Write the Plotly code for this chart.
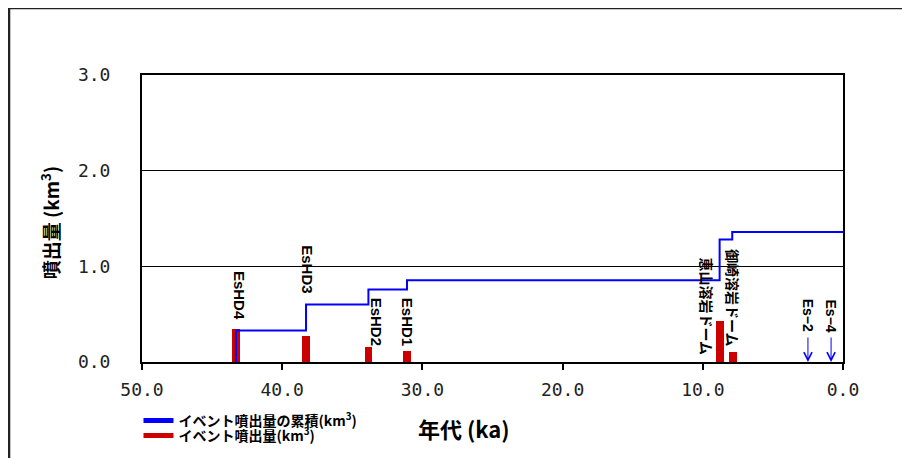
import plotly.graph_objects as go

# event ages (ka) and erupted volume (km3)
event_names = ["EsHD4", "EsHD3", "EsHD2", "EsHD1", "恵山溶岩ドーム", "御崎溶岩ドーム"]
event_age = [43.3, 38.3, 33.85, 31.1, 8.75, 7.85]
event_volume = [0.35, 0.27, 0.155, 0.115, 0.425, 0.10]

# cumulative volume step line
cum_age = [43.3, 43.3, 38.3, 33.85, 31.1, 8.8, 7.9, 0.0]
cum_volume = [0.0, 0.33, 0.60, 0.757, 0.854, 1.28, 1.36, 1.36]

# label anchor points (ka, km3)
label_age = [43.0, 38.2, 33.3, 31.1, 9.7, 7.85]
label_y = [0.70, 0.965, 0.42, 0.42, 0.58, 0.67]

# small eruptions marked by arrows
small_names = ["Es\u22122", "Es\u22124"]
small_age = [2.5, 0.85]

x_ticks = [50, 40, 30, 20, 10, 0]
y_ticks = [0, 1, 2, 3]

BLUE = "#0000FF"
RED = "#CC0000"
JP = "Noto Sans CJK JP"
MONO = "DejaVu Sans Mono"

fig = go.Figure()

fig.add_trace(go.Bar(
    x=event_age, y=event_volume,
    width=0.55,
    marker_color=RED,
    marker_line=dict(width=0),
    showlegend=False,
))

fig.add_trace(go.Scatter(
    x=cum_age, y=cum_volume,
    mode="lines",
    line=dict(color=BLUE, width=2, shape="hv"),
    showlegend=False,
))

# legend entries (drawn as thick line samples like the original)
fig.add_trace(go.Scatter(
    x=[None], y=[None], mode="lines",
    name="<b>イベント噴出量の累積(km<sup>3</sup>)</b>",
    line=dict(color=BLUE, width=5),
    legend="legend",
))
fig.add_trace(go.Scatter(
    x=[None], y=[None], mode="lines",
    name="<b>イベント噴出量(km<sup>3</sup>)</b>",
    line=dict(color=RED, width=5),
    legend="legend2",
))

for name, ax_, ay_ in zip(event_names, label_age, label_y):
    is_jp = not name.startswith("Es")
    fig.add_annotation(
        x=ax_, y=ay_, text="<b>" + name + "</b>",
        showarrow=False, textangle=90,
        xanchor="center", yanchor="middle",
        font=dict(family=JP if is_jp else "Liberation Sans", size=14 if is_jp else 15, color="black"),
    )

for name, age in zip(small_names, small_age):
    fig.add_annotation(
        x=age, y=0, text="", showarrow=True,
        ax=0, ay=-26, axref="pixel", ayref="pixel",
        arrowhead=5, arrowsize=1.6, arrowwidth=1, arrowcolor=BLUE,
    )
    fig.add_annotation(
        x=age, y=0.485, text="<b>" + name + "</b>",
        showarrow=False, textangle=90,
        xanchor="center", yanchor="middle",
        font=dict(family="Liberation Sans", size=14, color="black"),
    )

# axis titles
fig.add_annotation(
    xref="paper", yref="paper", x=0.459, y=-0.23,
    xanchor="center", yanchor="middle",
    text="<b>年代 (ka)</b>", showarrow=False,
    font=dict(family=JP, size=22, color="black"),
)
fig.add_annotation(
    xref="paper", yref="paper", x=-0.131, y=0.484,
    xanchor="center", yanchor="middle",
    text="<b>噴出量 (km<sup>3</sup>)</b>", showarrow=False, textangle=-90,
    font=dict(family=JP, size=19, color="black"),
)

# outer chart frame (cropped in the original)
fig.add_shape(
    type="rect", xref="paper", yref="paper",
    x0=-0.1897, x1=1.11, y0=-0.40, y1=1.2334,
    line=dict(color="#222222", width=2.5),
    fillcolor="rgba(0,0,0,0)", layer="below",
)

# the page body adds an 8px offset, so margins are shifted by 8px
fig.update_layout(
    width=910, height=458,
    plot_bgcolor="#FFFFFF",
    paper_bgcolor="#FFFFFF",
    margin=dict(l=134, r=75, t=67, b=104, autoexpand=False),
    bargap=0,
    xaxis=dict(
        range=[50, 0],
        tickvals=x_ticks,
        ticktext=[f"{v:.1f}" for v in x_ticks],
        ticks="outside", ticklen=6, tickwidth=1.5, tickcolor="black",
        ticklabelstandoff=4,
        tickfont=dict(family=MONO, size=18, color="#222222"),
        showline=True, mirror=True, linecolor="black", linewidth=2,
        showgrid=False, zeroline=False,
    ),
    yaxis=dict(
        range=[0, 3],
        tickvals=y_ticks,
        ticktext=[f"{v:.1f}" for v in y_ticks],
        ticks="",
        ticklabelstandoff=26,
        tickfont=dict(family=MONO, size=18, color="#222222"),
        showline=True, mirror=True, linecolor="black", linewidth=2,
        showgrid=True, gridcolor="black", gridwidth=1.2,
        zeroline=False,
    ),
    legend=dict(
        x=-0.005, xanchor="left", y=-0.2056, yanchor="middle",
        bgcolor="rgba(0,0,0,0)", borderwidth=0,
        font=dict(family=JP, size=14, color="black"),
    ),
    legend2=dict(
        x=-0.005, xanchor="left", y=-0.2578, yanchor="middle",
        bgcolor="rgba(0,0,0,0)", borderwidth=0,
        font=dict(family=JP, size=14, color="black"),
    ),
)

fig.write_html("out.html")
